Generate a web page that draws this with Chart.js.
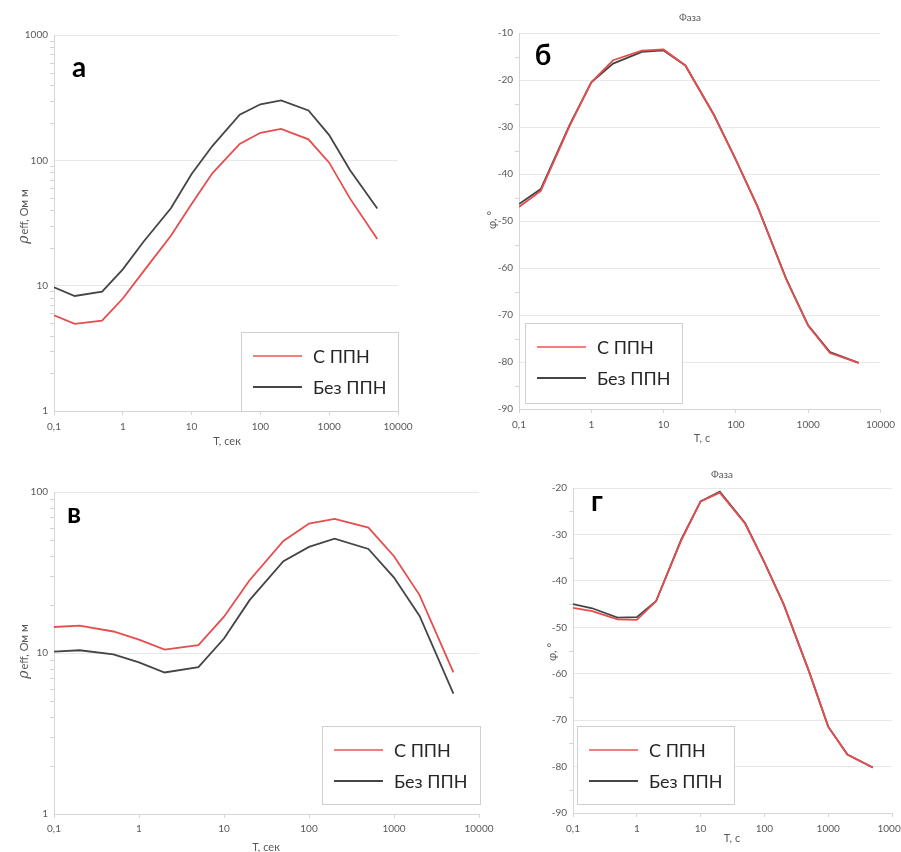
<!DOCTYPE html>
<html><head><meta charset="utf-8">
<script src="https://cdn.jsdelivr.net/npm/chart.js@4"></script>
<style>
html,body{margin:0;padding:0;background:#fff;overflow:hidden;width:901px;height:852px;}
canvas{position:absolute;}
</style></head>
<body>
<canvas id="pa" width="450" height="460" style="left:0px;top:0px"></canvas>
<canvas id="pb" width="451" height="460" style="left:450px;top:0px"></canvas>
<canvas id="pv" width="500" height="392" style="left:0px;top:460px"></canvas>
<canvas id="pg" width="391" height="392" style="left:530px;top:460px"></canvas>
<script>
// ---- data ----
const periods = [0.1, 0.2, 0.5, 1, 2, 5, 10, 20, 50, 100, 200, 500, 1000, 2000, 5000];
const seriesNames = ['С ППН', 'Без ППН'];

const rhoA_with    = [5.8, 4.95, 5.26, 7.9, 13, 25, 44.8, 78.7, 135, 166, 178, 147, 95.8, 49.7, 23.6];
const rhoA_without = [9.7, 8.27, 8.96, 13.5, 22.4, 41.4, 77.8, 130, 231, 280, 301, 250, 159, 83.7, 41.2];

const phaseB_with    = [-47, -43.6, -29.8, -20.5, -15.8, -13.75, -13.5, -16.9, -27.5, -37, -47, -62.5, -72.3, -78.1, -80.2];
const phaseB_without = [-46.4, -43.2, -29.6, -20.5, -16.5, -14, -13.7, -16.9, -27.5, -37, -47, -62.4, -72.2, -77.9, -80.2];

const rhoV_with    = [14.5, 14.8, 13.6, 12.1, 10.5, 11.2, 16.8, 28.3, 49.6, 63.7, 68, 60.1, 39.9, 22.9, 7.57];
const rhoV_without = [10.2, 10.4, 9.8, 8.74, 7.57, 8.17, 12.3, 21.3, 37.2, 45.6, 51.3, 44.3, 29.4, 17.0, 5.6];

const phaseG_with    = [-45.8, -46.5, -48.3, -48.4, -44.4, -31.2, -22.9, -21.0, -27.7, -36, -45, -59.5, -71.4, -77.4, -80.2];
const phaseG_without = [-45.0, -45.9, -47.9, -47.8, -44.4, -31, -22.9, -20.8, -27.6, -36, -45, -59.5, -71.4, -77.4, -80.2];

const xTickValues = [0.1, 1, 10, 100, 1000, 10000];
const xTickLabels = ['0,1', '1', '10', '100', '1000', '10000'];
const rhoTickValuesA = [1, 10, 100, 1000];
const rhoTickLabelsA = ['1', '10', '100', '1000'];
const rhoTickValuesV = [1, 10, 100];
const rhoTickLabelsV = ['1', '10', '100'];
const phaseTitle = 'Фаза';
const rhoAxisTitle = ['ρ', 'eff, Ом м'];
const phaseAxisTitle = 'φ, °';
const xTitleSec = 'T, сек';
const xTitleS = 'T, с';

// ---- style ----
Chart.defaults.font.family = 'Lato, "Open Sans", sans-serif';
const RED = '#e64d4e';
const BLACK = '#454545';
const TICK = '#595959';

function toPts(arr){ return periods.map((p,i)=>({x:p, y:arr[i]})); }

function logMinor(lo, hi){
  const out=[];
  for(let d=lo; d<hi; d*=10){ for(let k=2;k<=9;k++) out.push(d*k); }
  return out;
}
function linMinor(lo, hi){
  const out=[];
  for(let v=lo+5; v<hi; v+=10) out.push(v);
  return out;
}

const decor = {
  id:'decor',
  afterDraw(chart, args, o){
    const ctx = chart.ctx, ca = chart.chartArea, ys = chart.scales.y;
    ctx.save();
    // minor ticks on y axis
    ctx.strokeStyle = '#d4d4d4'; ctx.lineWidth = 1;
    o.minor.forEach(v=>{
      const py = Math.round(ys.getPixelForValue(v)) + 0.5;
      ctx.beginPath(); ctx.moveTo(ca.left-4, py); ctx.lineTo(ca.left, py); ctx.stroke();
    });
    // legend
    const r = o.legend;
    ctx.fillStyle = '#fff'; ctx.fillRect(r.x, r.y, r.w, r.h);
    ctx.strokeStyle = '#d0d0d0'; ctx.lineWidth = 1;
    ctx.strokeRect(r.x+0.5, r.y+0.5, r.w, r.h);
    const rows = [24, 55];
    chart.data.datasets.forEach((ds,i)=>{
      const ly = r.y + rows[i];
      ctx.strokeStyle = ds.legendColor || ds.borderColor; ctx.lineWidth = 2;
      ctx.beginPath(); ctx.moveTo(r.x+12, ly); ctx.lineTo(r.x+61, ly); ctx.stroke();
      ctx.fillStyle = '#262626'; ctx.font = '18px Lato, "Open Sans", sans-serif';
      ctx.textBaseline = 'middle'; ctx.textAlign = 'left';
      ctx.fillText(ds.label, r.x+72, ly+1);
    });
    // panel letter
    ctx.fillStyle = '#000'; ctx.font = 'bold 28px Lato, "Open Sans", sans-serif';
    ctx.textAlign = 'center'; ctx.textBaseline = 'middle';
    ctx.fillText(o.letter, o.letterPos[0], o.letterPos[1]);
    // chart title
    if (o.title){
      ctx.fillStyle = TICK; ctx.font = '10px Lato, "Open Sans", sans-serif';
      ctx.fillText(o.title, o.titlePos[0], o.titlePos[1]);
    }
    // x title
    ctx.fillStyle = TICK; ctx.font = '11px Lato, "Open Sans", sans-serif';
    ctx.fillText(o.xTitle, o.xTitlePos[0], o.xTitlePos[1]);
    // y title (rotated)
    ctx.translate(o.yTitlePos[0], o.yTitlePos[1]);
    ctx.rotate(-Math.PI/2);
    ctx.textAlign = 'left';
    if (Array.isArray(o.yTitle)){
      const f1 = 'italic 14px "DejaVu Serif", serif', f2 = '11px Lato, "Open Sans", sans-serif';
      ctx.font = f1; const w1 = ctx.measureText(o.yTitle[0]).width;
      ctx.font = f2; const w2 = ctx.measureText(o.yTitle[1]).width;
      const x0 = -(w1+w2)/2;
      ctx.font = f1; ctx.fillText(o.yTitle[0], x0, 0);
      ctx.font = f2; ctx.fillText(o.yTitle[1], x0+w1+1, 0);
    } else {
      ctx.textAlign = 'center';
      ctx.fillText(o.yTitle, 0, 0);
    }
    ctx.restore();
  }
};

function xScale(pad){
  return {
    type:'logarithmic', min:0.1, max:10000,
    afterBuildTicks: s => { s.ticks = xTickValues.map(v=>({value:v})); },
    afterFit: s => { s.height = 30; },
    ticks:{ autoSkip:false, maxRotation:0, minRotation:0, padding:pad, color:TICK, font:{size:10},
      callback:(v,i)=>xTickLabels[i] },
    grid:{ drawOnChartArea:false, drawTicks:true, tickLength:4, color:'#d6d6d6' },
    border:{ color:'#d6d6d6' }
  };
}
function yLog(min,max,vals,labels,width){
  return {
    type:'logarithmic', min:min, max:max,
    afterBuildTicks: s => { s.ticks = vals.map(v=>({value:v})); },
    afterFit: s => { s.width = width; },
    ticks:{ autoSkip:false, padding:6, color:TICK, font:{size:10}, callback:(v,i)=>labels[i] },
    grid:{ color:'#e8e8e8', drawTicks:false },
    border:{ color:'#d6d6d6' }
  };
}
function yLin(min,max,width){
  return {
    type:'linear', min:min, max:max,
    afterFit: s => { s.width = width; },
    ticks:{ stepSize:10, padding:6, color:TICK, font:{size:10}, callback:v=>String(v) },
    grid:{ color:'#e8e8e8', drawTicks:false },
    border:{ color:'#d6d6d6' }
  };
}

function panel(id, withArr, withoutArr, yScale, xPad, padding, decorOpts){
  new Chart(document.getElementById(id), {
    type:'line',
    data:{ datasets:[
      { label:seriesNames[0], data:toPts(withArr), borderColor:RED, legendColor:'#f27f80', borderWidth:1.8, pointRadius:0, tension:0, fill:false },
      { label:seriesNames[1], data:toPts(withoutArr), borderColor:BLACK, borderWidth:1.8, pointRadius:0, tension:0, fill:false }
    ]},
    options:{
      responsive:false, animation:false, devicePixelRatio:1,
      layout:{ padding:padding },
      plugins:{ legend:{display:false}, tooltip:{enabled:false}, decor:decorOpts },
      scales:{ x:xScale(xPad), y:yScale }
    },
    plugins:[decor]
  });
}

// panel а
panel('pa', rhoA_with, rhoA_without, yLog(1,1000,rhoTickValuesA,rhoTickLabelsA,54), 6,
  {left:0, top:35, right:52, bottom:19},
  { minor:logMinor(1,1000), legend:{x:241,y:332,w:157,h:79}, letter:'а', letterPos:[79,68],
    xTitle:xTitleSec, xTitlePos:[227,441], yTitle:rhoAxisTitle, yTitlePos:[24,217] });

// panel б
panel('pb', phaseB_with, phaseB_without, yLin(-90,-10,69), 6,
  {left:0, top:33, right:15, bottom:21},
  { minor:linMinor(-90,-10), legend:{x:75,y:323,w:157,h:80}, letter:'б', letterPos:[93,56],
    title:phaseTitle, titlePos:[240,18],
    xTitle:xTitleS, xTitlePos:[252,438], yTitle:phaseAxisTitle, yTitlePos:[42,220] });

// panel в
panel('pv', rhoV_with, rhoV_without, yLog(1,100,rhoTickValuesV,rhoTickLabelsV,54), 5,
  {left:0, top:32, right:21, bottom:8},
  { minor:logMinor(1,100), legend:{x:322,y:266,w:158,h:78}, letter:'в', letterPos:[74,54],
    xTitle:xTitleSec, xTitlePos:[266,387], yTitle:rhoAxisTitle, yTitlePos:[24,192] });

// panel г
panel('pg', phaseG_with, phaseG_without, yLin(-90,-20,43), 6,
  {left:0, top:28, right:29, bottom:9},
  { minor:linMinor(-90,-20), legend:{x:47,y:266,w:157,h:78}, letter:'г', letterPos:[67,42],
    title:phaseTitle, titlePos:[192,15],
    xTitle:xTitleS, xTitlePos:[202,378], yTitle:phaseAxisTitle, yTitlePos:[22,192] });
</script>
</body></html>
